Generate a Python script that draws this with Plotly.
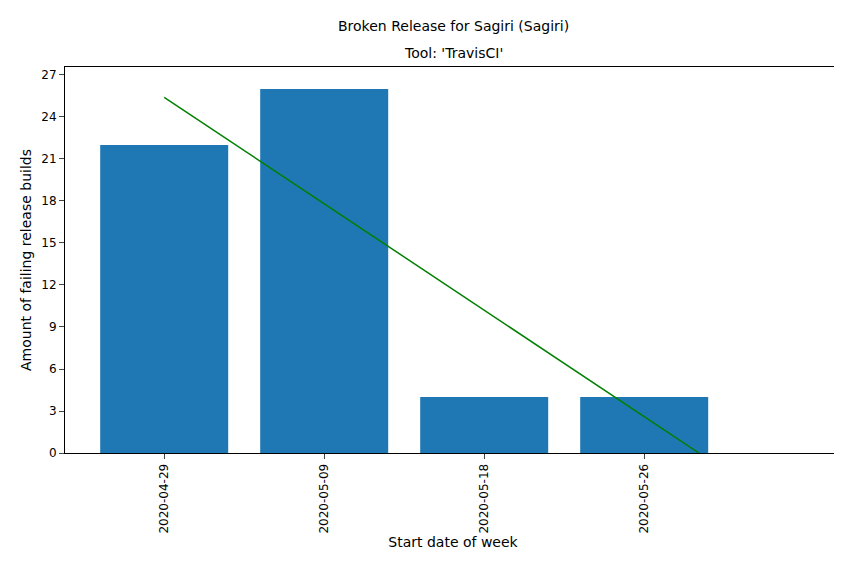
import numpy as np
import plotly.graph_objects as go

weeks = ["2020-04-29", "2020-05-09", "2020-05-18", "2020-05-26"]
failing = [22, 26, 4, 4]

xs = np.arange(len(weeks))
slope, intercept = np.polyfit(xs, failing, 1)
x_end = -intercept / slope  # trend drawn until it reaches zero

fig = go.Figure()
fig.add_trace(go.Bar(x=xs, y=failing, width=0.8, marker_color="#1f77b4", marker_line_width=0))
fig.add_trace(go.Scatter(x=[0, x_end], y=[intercept, slope * x_end + intercept],
                         mode="lines", line=dict(color="green", width=1.5)))

fig.update_layout(
    width=842, height=564, showlegend=False,
    plot_bgcolor="white", paper_bgcolor="white",
    font=dict(family="DejaVu Sans", size=12, color="black"),
    margin=dict(l=57, r=9, t=59, b=119),
    annotations=[
        dict(text="Broken Release for Sagiri (Sagiri)", x=0.5, y=1.106, xref="paper", yref="paper",
             yanchor="middle", showarrow=False, font=dict(size=14)),
        dict(text="Tool: 'TravisCI'", x=0.5, y=1.0, xref="paper", yref="paper",
             yanchor="bottom", yshift=4, showarrow=False, font=dict(size=14)),
    ],
)
fig.update_xaxes(range=[-0.62, 4.23], tickvals=list(xs), ticktext=weeks, tickangle=-90,
                 showline=True, linecolor="black", mirror=True, ticks="outside",
                 showgrid=False, zeroline=False,
                 title=dict(text="Start date of week", standoff=4))
fig.update_yaxes(range=[0, 27.57], tickvals=list(range(0, 28, 3)),
                 showline=True, linecolor="black", mirror=True, ticks="outside",
                 showgrid=False, zeroline=False,
                 title=dict(text="Amount of failing release builds", standoff=6))

fig.write_html("out.html")
